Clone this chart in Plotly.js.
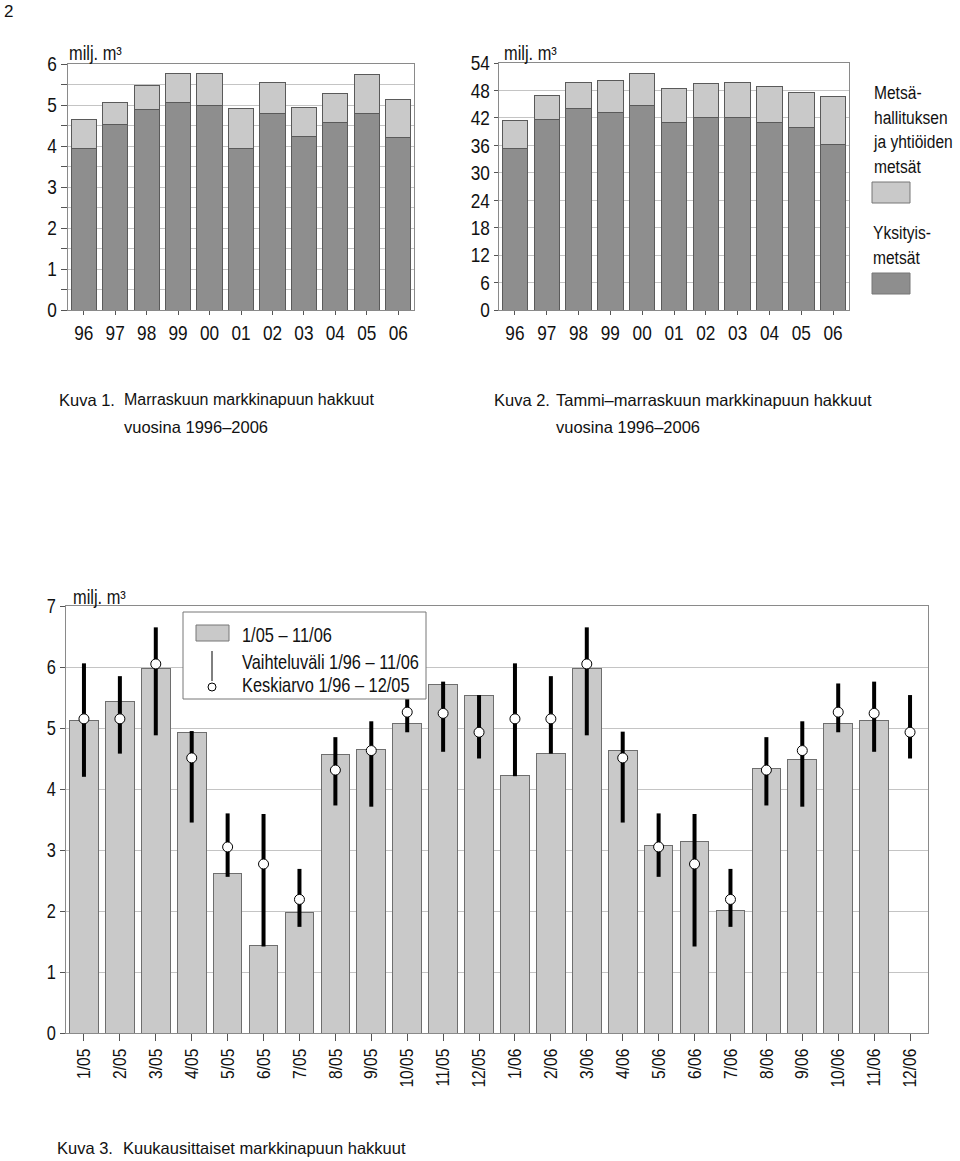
<!DOCTYPE html>
<html>
<head>
<meta charset="utf-8">
<script src="https://cdn.plot.ly/plotly-3.0.1.min.js"></script>
<style>
html,body{margin:0;padding:0;background:#fff;}
#chart{width:960px;height:1161px;}
</style>
</head>
<body>
<div id="chart"></div>
<script>
// ---- data ----
const years = ['96','97','98','99','00','01','02','03','04','05','06'];
// Kuva 1: November, milj. m3
const novPrivate = [3.94,4.53,4.90,5.07,4.98,3.93,4.80,4.24,4.58,4.80,4.20];
const novCompany = [0.71,0.54,0.58,0.69,0.78,0.99,0.74,0.69,0.70,0.94,0.94];
// Kuva 2: January-November, milj. m3
const janNovPrivate = [35.4,41.6,44.0,43.1,44.7,40.9,42.1,42.0,41.1,39.9,36.1];
const janNovCompany = [6.0,5.3,5.8,7.0,7.1,7.6,7.5,7.7,7.8,7.7,10.5];
// Kuva 3: monthly
const months = ['1/05','2/05','3/05','4/05','5/05','6/05','7/05','8/05','9/05','10/05','11/05','12/05',
                '1/06','2/06','3/06','4/06','5/06','6/06','7/06','8/06','9/06','10/06','11/06','12/06'];
const monthly = [5.13,5.44,5.98,4.93,2.61,1.44,1.98,4.57,4.65,5.08,5.71,5.53,
                 4.22,4.59,5.97,4.63,3.08,3.14,2.01,4.33,4.49,5.08,5.13,null];
const rangeMin = [4.20,4.58,4.88,3.45,2.56,1.42,1.74,3.73,3.71,4.93,4.61,4.50,
                  4.21,4.58,4.88,3.45,2.56,1.42,1.74,3.73,3.71,4.93,4.61,4.50];
const rangeMax = [6.06,5.85,6.65,4.95,3.60,3.59,2.69,4.85,5.11,5.73,5.76,5.54,
                  6.06,5.85,6.65,4.94,3.60,3.59,2.69,4.85,5.11,5.73,5.76,5.54];
const meanVal = [5.15,5.15,6.05,4.51,3.05,2.77,2.19,4.31,4.63,5.26,5.24,4.93,
                 5.15,5.15,6.05,4.51,3.05,2.77,2.19,4.31,4.63,5.26,5.24,4.93];

// ---- layout helpers (pixel -> paper) ----
const W = 960, H = 1161;
const px = x => x / W;
const py = y => 1 - y / H;
const FONT = '"Liberation Sans", Arial, sans-serif';
const NARROW = 0.82; // horizontal squeeze to mimic the narrow chart font
const DARK = '#8e8e8e', LIGHT = '#c9c9c9', EDGE = '#5a5a5a', GRID = '#c4c4c4', FRAME = '#8a8a8a';

const barLine = {color: EDGE, width: 1};
const traces = [
  {type:'bar', x: years, y: novPrivate, xaxis:'x', yaxis:'y', marker:{color: DARK, line: barLine}, hoverinfo:'skip'},
  {type:'bar', x: years, y: novCompany, xaxis:'x', yaxis:'y', marker:{color: LIGHT, line: barLine}, hoverinfo:'skip'},
  {type:'bar', x: years, y: janNovPrivate, xaxis:'x2', yaxis:'y2', marker:{color: DARK, line: barLine}, hoverinfo:'skip'},
  {type:'bar', x: years, y: janNovCompany, xaxis:'x2', yaxis:'y2', marker:{color: LIGHT, line: barLine}, hoverinfo:'skip'},
  {type:'bar', x: months, y: monthly, xaxis:'x3', yaxis:'y3', marker:{color: LIGHT, line:{color:'#6e6e6e', width:1}}, hoverinfo:'skip'},
  {type:'scatter', mode:'markers', x: months, y: meanVal, xaxis:'x3', yaxis:'y3',
   marker:{symbol:'circle', size:10, color:'#fff', line:{color:'#000', width:1}},
   error_y:{type:'data', symmetric:false,
            array: rangeMax.map((v,i)=>v-meanVal[i]),
            arrayminus: meanVal.map((v,i)=>v-rangeMin[i]),
            color:'#000', thickness:4, width:0},
   hoverinfo:'skip'}
];

const tickFont = {family: FONT, size: 21, color:'#111'};
const baseX = {type:'category', showline:true, mirror:true, linecolor: FRAME, linewidth:1,
               ticks:'outside', ticklen:4, tickcolor:'#555', tickfont: tickFont, showgrid:false,
               zeroline:false, fixedrange:true};
const baseY = {showline:true, mirror:true, linecolor: FRAME, linewidth:1, ticks:'outside',
               tickcolor:'#555', tickfont: tickFont, gridcolor: GRID, gridwidth:1, zeroline:false, fixedrange:true};

const capFont = {family: FONT, size:16.5, color:'#111'};
const chartFont = {family: FONT, size:20, color:'#111'};

function note(text, x, y, font, yanchor){
  return {text: text, xref:'paper', yref:'paper', x: px(x), y: py(y), xanchor:'left',
          yanchor: yanchor || 'middle', align:'left', showarrow:false, font: font};
}

const layout = {
  width: W, height: H,
  margin:{l:0,r:0,t:0,b:0},
  paper_bgcolor:'#fff', plot_bgcolor:'#fff',
  showlegend:false,
  barmode:'stack', bargap:0.2,
  font:{family: FONT, color:'#111'},
  xaxis: Object.assign({}, baseX, {domain:[px(68), px(414)], anchor:'y', range:[-0.5,10.5]}),
  yaxis: Object.assign({}, baseY, {domain:[py(310), py(64)], anchor:'x', range:[0,6], dtick:1, ticklen:6,
          minor:{dtick:0.5, showgrid:true, gridcolor: GRID, ticks:'outside', ticklen:6, tickcolor:'#555'}}),
  xaxis2: Object.assign({}, baseX, {domain:[px(499), px(849)], anchor:'y2', range:[-0.5,10.5]}),
  yaxis2: Object.assign({}, baseY, {domain:[py(310), py(63)], anchor:'x2', range:[0,54], dtick:6, ticklen:4}),
  xaxis3: Object.assign({}, baseX, {domain:[px(66), px(928)], anchor:'y3', range:[-0.5,23.5], tickangle:-90, ticklen:7,
          tickfont:{family: FONT, size:19, color:'#111'}}),
  yaxis3: Object.assign({}, baseY, {domain:[py(1033), py(606)], anchor:'x3', range:[0,7], dtick:1, ticklen:5,
          tickfont:{family: FONT, size:20, color:'#111'}}),
  shapes: [
    // legend of Kuva 2
    {type:'rect', xref:'paper', yref:'paper', x0:px(872), x1:px(910), y0:py(203), y1:py(182), fillcolor: LIGHT, line:{color:'#777', width:1}},
    {type:'rect', xref:'paper', yref:'paper', x0:px(872), x1:px(910), y0:py(294), y1:py(273), fillcolor: DARK, line:{color:'#777', width:1}},
    // legend of Kuva 3
    {type:'rect', xref:'paper', yref:'paper', layer:'above', x0:px(183), x1:px(426), y0:py(699), y1:py(612), fillcolor:'#fff', line:{color:'#777', width:1}},
    {type:'rect', xref:'paper', yref:'paper', layer:'above', x0:px(196), x1:px(229), y0:py(641), y1:py(625), fillcolor: LIGHT, line:{color:'#777', width:1}},
    {type:'line', xref:'paper', yref:'paper', layer:'above', x0:px(212), x1:px(212), y0:py(651), y1:py(681), line:{color:'#000', width:1}},
    {type:'circle', xref:'paper', yref:'paper', layer:'above', x0:px(208), x1:px(216), y0:py(691), y1:py(683), fillcolor:'#fff', line:{color:'#000', width:1}}
  ],
  annotations: [
    // 0-8: regular-width document texts
    note('2', 2, 0, {family: FONT, size:17, color:'#111'}, 'top'),
    note('Kuva 1.', 57, 400, capFont),
    note('Marraskuun markkinapuun hakkuut', 122, 400, {family: FONT, size:16, color:'#111'}),
    note('vuosina 1996–2006', 122, 427, capFont),
    note('Kuva 2.', 492, 400, capFont),
    note('Tammi–marraskuun markkinapuun hakkuut', 554, 400, capFont),
    note('vuosina 1996–2006', 554, 427, capFont),
    note('Kuva 3.', 55, 1148, capFont),
    note('Kuukausittaiset markkinapuun hakkuut', 121, 1148, capFont),
    // chart texts (narrow)
    note('milj. m³', 67, 53, chartFont),
    note('milj. m³', 502, 53, chartFont),
    note('milj. m³', 71, 597, chartFont),
    note('Metsä-<br>hallituksen<br>ja yhtiöiden<br>metsät', 871, 80, {family: FONT, size:19, color:'#111'}, 'top'),
    note('Yksityis-<br>metsät', 871, 220, {family: FONT, size:19, color:'#111'}, 'top'),
    note('1/05 – 11/06', 240, 635, chartFont),
    note('Vaihteluväli 1/96 – 11/06', 240, 662, chartFont),
    note('Keskiarvo 1/96 – 12/05', 240, 685, chartFont)
  ]
};

const REGULAR_ANN = 9; // annotations with index < 9 keep their normal width

function condense(gd){
  const texts = gd.querySelectorAll('.main-svg text');
  texts.forEach(t => {
    const ann = t.closest('.annotation');
    if (ann) {
      const idx = +ann.getAttribute('data-index');
      if (idx < REGULAR_ANN) return;
    }
    const x = parseFloat(t.getAttribute('x')) || 0;
    const y = parseFloat(t.getAttribute('y')) || 0;
    const prev = t.getAttribute('transform') || '';
    t.setAttribute('transform', (prev + ' translate(' + x + ',' + y + ') scale(' + NARROW + ',1) translate(' + (-x) + ',' + (-y) + ')').trim());
  });
}

Plotly.newPlot('chart', traces, layout, {staticPlot:true, displayModeBar:false}).then(gd => condense(gd));
</script>
</body>
</html>
